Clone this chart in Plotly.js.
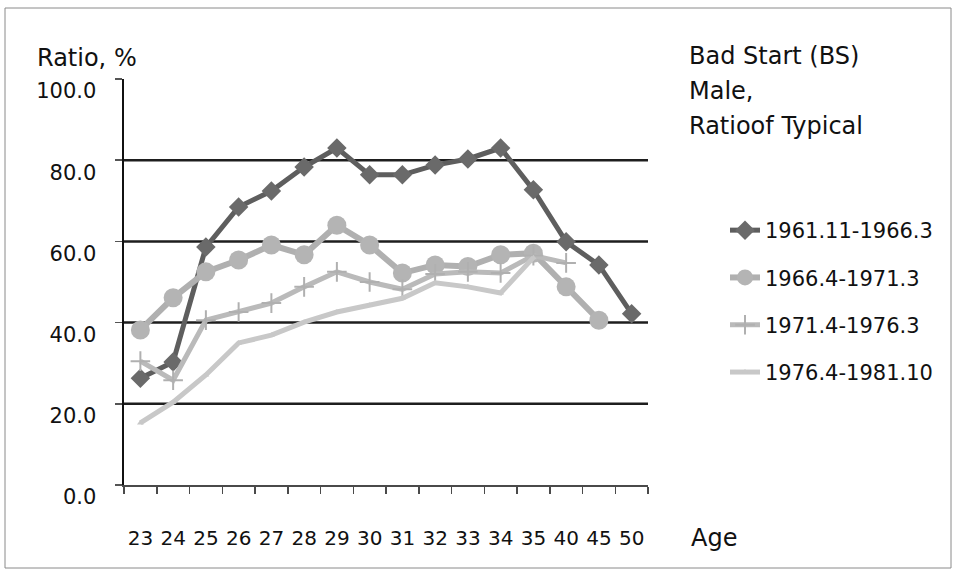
<!DOCTYPE html>
<html>
<head>
<meta charset="utf-8">
<script src="https://cdn.plot.ly/plotly-3.0.1.min.js"></script>
<style>
html,body{margin:0;padding:0;background:#fff;}
#chart{width:953px;height:570px;}
</style>
</head>
<body>
<div id="chart"></div>
<script>
const ages = ['23','24','25','26','27','28','29','30','31','32','33','34','35','40','45','50'];
const seriesNames = ['1961.11-1966.3','1966.4-1971.3','1971.4-1976.3','1976.4-1981.10'];
const s1961 = [26.3, 30.3, 58.6, 68.5, 72.4, 78.3, 83.0, 76.4, 76.4, 78.8, 80.3, 83.0, 72.7, 59.9, 54.2, 42.2];
const s1966 = [38.2, 46.1, 52.5, 55.4, 59.1, 56.7, 64.0, 59.1, 52.2, 54.2, 53.8, 56.7, 57.1, 48.8, 40.6, null];
const s1971 = [30.5, 25.8, 40.6, 42.6, 44.8, 48.8, 52.5, 50.0, 48.2, 52.0, 52.5, 52.2, 56.5, 54.7, null, null];
const s1976 = [15.3, 20.4, 27.1, 35.0, 36.9, 40.1, 42.6, 44.3, 46.0, 49.8, 48.8, 47.3, 56.0, null, null, null];
const yTicks = [0, 20, 40, 60, 80, 100];
const gridVals = [20, 40, 60, 80];

const FONT = 'DejaVu Sans';
const W = 953, H = 570;
const L = 124, R = 648, T = 79, B = 485;
const px = x => (x - L) / (R - L);
const py = y => (B - y) / (B - T);

const styles = [
  {line:'#5e5e5e', mk:'diamond', mc:'#6a6a6a', ms:15, lw:5, mlw:0},
  {line:'#b0b0b0', mk:'circle', mc:'#b4b4b4', ms:19, lw:6, mlw:0},
  {line:'#bababa', mk:'cross-thin-open', mc:'#b0b0b0', ms:14, lw:5, mlw:2},
  {line:'#c8c8c8', mk:'triangle-up', mc:'#c8c8c8', ms:6, lw:5, mlw:0}
];
const data = [s1961, s1966, s1971, s1976].map((vals, i) => ({
  type: 'scatter', mode: 'lines+markers',
  x: ages, y: vals, name: seriesNames[i],
  legendgroup: 'g' + i,
  line: {color: styles[i].line, width: styles[i].lw},
  marker: {symbol: styles[i].mk, color: styles[i].mc, size: styles[i].ms,
           line: {color: styles[i].mc, width: styles[i].mlw}},
  connectgaps: false
}));

const shapes = gridVals.map(v => ({
  type: 'line', xref: 'paper', yref: 'y', x0: 0, x1: 1, y0: v, y1: v,
  line: {color: '#1e1e1e', width: 2.5}, layer: 'below'
}));
shapes.push({type:'rect', xref:'paper', yref:'paper', x0: px(5), x1: px(951), y0: py(8), y1: py(568),
  line:{color:'#8a8a8a', width:1}, layer:'below'});

const ann = (text, x, y, size) => ({
  text, xref:'paper', yref:'paper', x: px(x), y: py(y), xanchor:'left', yanchor:'middle',
  showarrow:false, font:{family: FONT, size: size, color:'#111'}
});

const layout = {
  width: W, height: H,
  margin: {l: L, r: W - R, t: T, b: H - B, pad: 0},
  paper_bgcolor: '#fff', plot_bgcolor: '#fff',
  showlegend: true,
  legend: {x: px(725), y: py(210), xanchor:'left', yanchor:'top',
           font:{family: FONT, size: 21, color:'#111'},
           traceorder:'grouped', tracegroupgap: 17, bgcolor:'rgba(0,0,0,0)'},
  xaxis: {type:'category', categoryorder:'array', categoryarray: ages,
          range: [-0.5, ages.length - 0.5], autorange: false,
          showgrid:false, zeroline:false, showline:true, linecolor:'#4a4a4a', linewidth:2,
          ticks:'outside', tickson:'boundaries', ticklen:7, tickcolor:'#4a4a4a', tickwidth:1.5,
          tickangle: 0, ticklabelstandoff: 34,
          tickfont:{family: FONT, size: 20, color:'#111'}, fixedrange:true},
  yaxis: {range:[0,100], tickvals: yTicks, tickformat:'.1f',
          showgrid:false, zeroline:false, showline:true, linecolor:'#111', linewidth:2.5,
          ticks:'outside', ticklen:7, tickcolor:'#555', tickwidth:1.5,
          ticklabelstandoff: 14, ticklabelshift: 12,
          tickfont:{family: FONT, size: 21, color:'#111'}, fixedrange:true},
  shapes: shapes,
  annotations: [
    ann('Ratio, %', 35, 58, 24),
    ann('Bad Start (BS)', 687, 56, 24),
    ann('Male,', 687, 91, 24),
    ann('Ratioof Typical', 687, 126, 24),
    ann('Age', 689, 538, 24)
  ]
};

Plotly.newPlot('chart', data, layout, {staticPlot: true, displayModeBar: false});
</script>
</body>
</html>
